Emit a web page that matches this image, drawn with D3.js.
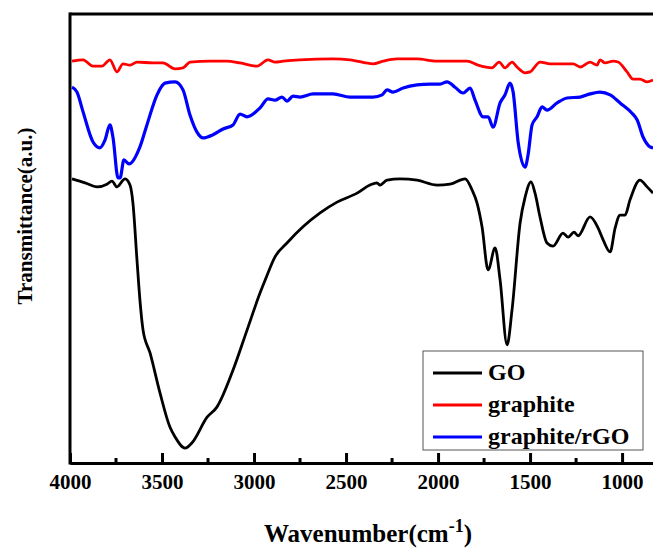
<!DOCTYPE html>
<html lang="en">
<head>
<meta charset="UTF-8">
<title>FTIR</title>
<script src="https://d3js.org/d3.v7.min.js"></script>
<style>
  body { margin: 0; background: #fff; }
  text { font-family: "Liberation Serif", "Times New Roman", serif; font-weight: bold; }
</style>
</head>
<body>
<div class="chart"></div>
<script>
// [wavenumber (cm-1), transmittance (a.u.)]
const goData = [
  [3989, 63.3], [3918, 62.4], [3853, 61.5], [3799, 62.1], [3772, 62.8], [3745, 61.5],
  [3701, 63.3], [3674, 61.9], [3658, 57.9], [3636, 45.2], [3620, 36.3], [3603, 29.6],
  [3565, 24.5], [3511, 15.6], [3457, 8.0], [3429, 5.8], [3375, 3.3], [3337, 4.5],
  [3255, 10.2], [3201, 12.5], [3114, 20.7], [3038, 29.6], [2967, 37.9], [2935, 41.2],
  [2886, 45.9], [2821, 49.0], [2734, 52.6], [2641, 55.7], [2549, 58.1], [2440, 60.1],
  [2370, 61.9], [2332, 62.4], [2315, 61.9], [2277, 63.0], [2207, 63.3], [2114, 63.0],
  [2005, 61.9], [1935, 62.1], [1853, 63.3], [1815, 60.8], [1788, 57.9], [1761, 52.6],
  [1728, 43.0], [1690, 47.9], [1663, 40.8], [1625, 26.3], [1598, 34.1], [1554, 53.5],
  [1527, 59.2], [1495, 62.6], [1473, 60.1], [1446, 54.8], [1408, 49.0], [1375, 48.3],
  [1321, 51.2], [1293, 50.3], [1261, 51.4], [1239, 50.6], [1174, 54.8], [1130, 52.3],
  [1103, 49.7], [1065, 47.0], [1038, 52.3], [1011, 55.2], [984, 55.2], [957, 58.6],
  [903, 63.0], [864, 61.5], [832, 60.1]
];
const graphiteData = [
  [3989, 89.5], [3929, 89.8], [3875, 88.4], [3826, 88.4], [3783, 89.8], [3745, 87.1],
  [3712, 88.9], [3674, 88.6], [3636, 89.3], [3549, 89.1], [3495, 89.1], [3429, 87.8],
  [3386, 88.0], [3348, 89.3], [3239, 89.5], [3147, 89.5], [3076, 89.1], [2984, 88.4],
  [2924, 89.8], [2886, 89.3], [2842, 89.5], [2750, 89.8], [2571, 90.0], [2478, 89.8],
  [2353, 88.9], [2299, 89.5], [2223, 90.0], [2114, 90.0], [2005, 89.5], [1842, 89.5],
  [1783, 88.6], [1707, 88.0], [1668, 89.3], [1636, 88.0], [1598, 89.3], [1571, 88.2],
  [1527, 86.9], [1500, 87.1], [1446, 89.3], [1391, 88.9], [1337, 88.9], [1266, 88.9],
  [1228, 88.2], [1174, 89.3], [1136, 88.6], [1120, 89.8], [1092, 89.1], [1049, 89.5],
  [1022, 89.3], [973, 87.1], [940, 85.5], [903, 85.5], [864, 84.9], [832, 85.3]
];
const rgoData = [
  [3989, 83.7], [3962, 82.6], [3929, 78.2], [3875, 71.5], [3837, 70.2], [3810, 71.9],
  [3783, 75.3], [3766, 72.4], [3739, 63.5], [3728, 63.5], [3707, 67.5], [3679, 66.6],
  [3620, 70.4], [3582, 75.3], [3527, 82.0], [3484, 84.6], [3429, 84.9], [3386, 83.1],
  [3348, 77.5], [3310, 73.7], [3277, 72.4], [3223, 73.1], [3168, 74.4], [3114, 75.3],
  [3076, 77.7], [3038, 77.1], [2967, 79.1], [2924, 81.1], [2886, 80.8], [2848, 81.5],
  [2821, 80.6], [2788, 81.7], [2750, 81.5], [2679, 82.2], [2571, 82.2], [2478, 81.5],
  [2353, 81.5], [2304, 82.0], [2277, 83.1], [2245, 82.6], [2190, 83.5], [2114, 84.2],
  [2043, 84.4], [1989, 84.4], [1951, 84.9], [1908, 83.7], [1864, 82.4], [1826, 83.5],
  [1799, 80.8], [1755, 77.1], [1728, 77.1], [1701, 74.8], [1663, 80.2], [1636, 82.0],
  [1609, 84.6], [1592, 82.6], [1565, 71.5], [1527, 65.9], [1511, 68.6], [1489, 75.3],
  [1462, 77.1], [1435, 79.3], [1408, 78.6], [1353, 80.2], [1299, 81.3], [1228, 81.5],
  [1174, 82.2], [1120, 82.6], [1065, 82.0], [1011, 80.2], [946, 77.9], [918, 76.4],
  [886, 72.6], [848, 70.4], [832, 70.2]
];
const majorTicks = [4000, 3500, 3000, 2500, 2000, 1500, 1000];
const minorTicks = [3750, 3250, 2750, 2250, 1750, 1250];
const seriesNames = ["GO", "graphite", "graphite/rGO"];
const seriesColors = ["#000000", "#ff0000", "#0000ff"];

const w = 653, h = 549;
const margin = { top: 14, right: 0, bottom: 86, left: 70 };

const svg = d3.select(".chart").append("svg").attr("width", w).attr("height", h);

const x = d3.scaleLinear().domain([4000, 832]).range([margin.left, w - margin.right]);
const y = d3.scaleLinear().domain([0, 100]).range([h - margin.bottom, margin.top]);

// 曲線
const line = d3.line()
  .x(d => x(d[0]))
  .y(d => y(d[1]))
  .curve(d3.curveMonotoneX);

[goData, graphiteData, rgoData].forEach((data, i) => {
  svg.append("path")
    .datum(data)
    .attr("fill", "none")
    .attr("stroke", seriesColors[i])
    .attr("stroke-width", i === 2 ? 3.2 : 2.8)
    .attr("stroke-linejoin", "round")
    .attr("d", line);
});

// 框線
svg.append("line")
  .attr("x1", margin.left).attr("x2", w)
  .attr("y1", margin.top).attr("y2", margin.top)
  .attr("stroke", "#000").attr("stroke-width", 3);
svg.append("line")
  .attr("x1", margin.left).attr("x2", margin.left)
  .attr("y1", margin.top - 1.5).attr("y2", h - margin.bottom + 1.5)
  .attr("stroke", "#000").attr("stroke-width", 3);

// X軸
const xAxis = d3.axisBottom(x)
  .tickValues(majorTicks)
  .tickSizeInner(-10)
  .tickSizeOuter(0)
  .tickPadding(11)
  .tickFormat(d3.format("d"));

const gx = svg.append("g")
  .attr("transform", `translate(0, ${h - margin.bottom})`)
  .call(xAxis);
gx.select(".domain").attr("stroke-width", 3);
gx.selectAll(".tick line").attr("stroke-width", 3);
gx.selectAll(".tick text")
  .attr("font-size", 21)
  .attr("fill", "#000")
  .style("font-family", '"Liberation Serif", serif')
  .style("font-weight", "bold");

gx.selectAll(".minor")
  .data(minorTicks)
  .enter()
  .append("line")
  .attr("x1", d => x(d)).attr("x2", d => x(d))
  .attr("y1", 0).attr("y2", -5)
  .attr("stroke", "#000").attr("stroke-width", 3);

// 軸標題
const xt = svg.append("text")
  .attr("x", 368).attr("y", 542)
  .attr("text-anchor", "middle")
  .attr("font-size", 25);
xt.append("tspan").text("Wavenumber(cm");
xt.append("tspan").attr("font-size", 18).attr("dy", -10).text("-1");
xt.append("tspan").attr("dy", 10).text(")");

svg.append("text")
  .attr("transform", "translate(32, 216) rotate(-90)")
  .attr("text-anchor", "middle")
  .attr("font-size", 21)
  .text("Transmittance(a.u.)");

// 圖例
const lg = svg.append("g");
lg.append("rect")
  .attr("x", 423).attr("y", 351)
  .attr("width", 220).attr("height", 99)
  .attr("fill", "#fff")
  .attr("stroke", "#555").attr("stroke-width", 1);

seriesNames.forEach((name, i) => {
  const cy = 373 + i * 32;
  lg.append("line")
    .attr("x1", 433).attr("x2", 482)
    .attr("y1", cy).attr("y2", cy)
    .attr("stroke", seriesColors[i]).attr("stroke-width", 3);
  lg.append("text")
    .attr("x", 488).attr("y", cy + 7)
    .attr("font-size", 24)
    .text(name);
});
</script>
</body>
</html>
